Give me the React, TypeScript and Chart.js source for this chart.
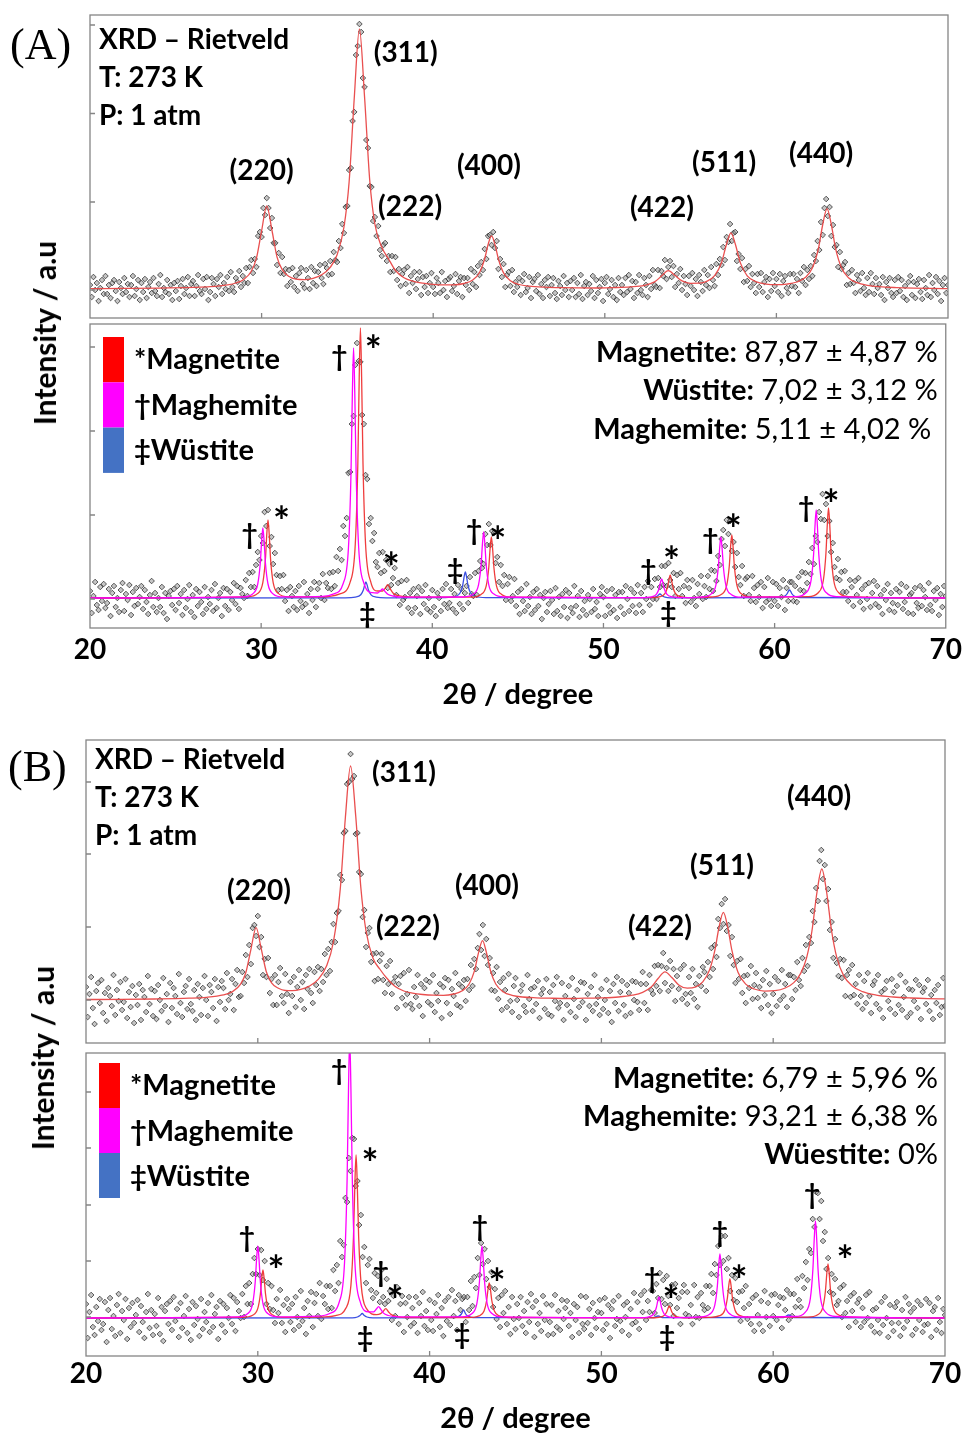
import React, { useEffect, useRef } from "react";
import { Chart, registerables } from "chart.js";

Chart.register(...registerables);

const FONT = "Lato, 'Open Sans', 'DejaVu Sans', sans-serif";

// 2θ axis
const X_MIN = 20;
const X_MAX = 70;
const X_STEP = 10;
const X_INNER_TICKS = [30, 40, 50, 60];

// scan grid of the measured patterns (2θ from 20° in 0.1° steps)
const SCAN_START = 20;
const SCAN_STEP = 0.1;

// ===================== (A) =====================
const A_OBS_TOP = [
  33,21,41,28,35,17,30,38,24,42,
  24,33,20,35,38,27,17,36,30,24,
  40,26,34,21,33,42,22,29,38,18,
  35,26,39,20,31,36,25,40,27,22,
  34,43,21,30,26,38,24,33,18,35,
  27,37,19,32,39,24,30,41,22,34,
  37,22,32,43,27,24,39,29,41,18,
  26,40,34,22,39,31,43,24,35,29,
  41,27,46,31,26,40,36,47,31,42,
  35,50,35,51,58,45,59,51,82,86,
  81,110,103,120,110,90,100,75,75,53,
  65,45,61,44,49,32,48,36,50,31,
  42,27,45,50,34,30,48,40,29,51,
  35,47,32,46,53,40,34,54,50,43,
  57,44,66,58,56,77,70,94,85,111,
  112,148,150,197,206,263,272,294,286,240,
  231,178,170,132,131,97,101,82,92,68,
  62,73,75,57,62,46,62,47,61,38,
  49,32,44,48,34,51,25,42,35,46,
  29,39,46,23,41,31,42,25,35,45,
  31,24,40,35,25,46,28,37,21,39,
  41,27,32,44,24,37,41,21,40,33,
  40,28,49,34,46,31,52,43,56,48,
  69,59,82,83,73,86,70,77,49,59,
  41,54,31,43,46,32,48,26,36,31,
  40,23,37,44,26,30,41,20,36,39,
  27,43,24,34,20,38,31,41,22,33,
  40,25,19,37,32,23,42,28,35,21,
  37,28,40,21,35,24,43,19,32,36,
  23,34,27,42,20,38,25,31,39,17,
  35,41,24,29,38,21,33,18,40,26,
  33,23,40,26,43,29,37,20,36,25,
  43,28,23,40,33,21,42,29,48,33,
  31,48,30,47,42,58,39,51,57,41,
  52,31,44,35,49,28,42,34,23,42,
  32,45,28,39,22,43,36,27,48,33,
  43,30,51,38,32,54,43,59,53,71,
  58,81,76,94,77,85,86,57,64,49,
  60,36,49,37,52,31,44,35,25,44,
  31,45,26,36,41,21,39,27,45,32,
  39,26,44,22,37,42,30,25,44,32,
  44,31,39,25,45,37,51,33,48,39,
  52,42,63,57,77,68,96,83,110,119,
  102,111,82,93,71,73,51,66,49,53,
  56,33,45,34,48,35,25,43,38,27,
  45,30,23,40,26,45,34,24,40,30,
  34,23,41,18,36,30,40,25,21,38,
  25,41,27,38,21,32,18,36,42,23,
  36,20,34,39,26,19,38,30,23,43,
  21,35,28,41,24,37,17,33,40,25,
  33,
];

const A_FIT_X = [
  20,22,24,26,27,28,28.5,29,29.4,29.7,30,30.3,30.6,30.9,31.2,31.6,32,32.5,33,33.5,
  34,34.4,34.8,35.1,35.4,35.7,36,36.3,36.6,37,37.4,37.8,38.3,38.8,39.4,40,40.6,41.2,41.8,42.3,
  42.7,43,43.2,43.4,43.6,43.8,44.1,44.5,45,45.6,46.5,47.5,48.5,49.5,50.5,51.5,52.3,52.9,53.3,53.7,
  54.1,54.5,55,55.5,56,56.4,56.8,57.1,57.35,57.6,57.9,58.3,58.8,59.4,60,60.6,61.2,61.7,62.1,62.45,
  62.7,62.95,63.2,63.45,63.8,64.2,64.7,65.3,66,67,68,69,70,
];
const A_FIT_Y = [
  29.4,29.6,29.9,30.6,31.3,33.1,35,39.1,46.8,59.9,87.1,112.2,88,60.9,48.4,41.5,38.9,38.4,39.7,43.2,
  50.7,63.2,91,136,220,289,221,138,94,71,59,47.5,40.3,36.9,34.8,33.6,33.1,33.2,34.5,37.9,
  45.5,59.2,73.5,82.1,73.4,59,45.1,37.2,33.5,31.8,30.8,30.3,30.1,30,30.4,31.1,32.6,36.1,41.9,47.3,
  42.4,37.1,34.7,34.8,37.2,42.3,55.2,74.3,85.2,74.3,55.1,42.2,36.3,33.9,33.3,33.9,36,40.7,50.2,69.5,
  93.5,109.4,93.4,69.4,50,40.3,35.3,32.7,31.3,30.4,29.9,29.6,29.4,
];

const A_OBS_BOT = [
  37,15,32,46,23,18,41,27,44,20,
  25,39,12,35,42,21,30,16,38,45,
  17,34,28,43,13,36,22,40,24,31,
  42,19,38,26,14,33,47,21,35,16,
  30,21,41,15,35,9,32,37,23,39,
  18,42,25,34,13,38,20,29,43,16,
  33,11,39,22,36,26,14,41,19,31,
  24,38,17,44,20,30,35,12,40,22,
  39,18,36,28,45,24,42,19,40,34,
  30,48,32,55,41,56,41,63,76,68,
  92,85,116,102,118,82,91,64,75,53,
  38,52,39,53,27,38,17,41,32,21,
  37,18,42,27,21,46,24,34,15,39,
  28,46,21,39,45,30,54,28,45,40,
  55,39,56,42,71,57,79,68,102,92,
  110,155,156,204,212,263,285,267,266,213,
  204,153,149,104,110,87,95,66,61,75,
  55,76,57,68,40,64,43,50,60,33,
  45,23,47,28,31,48,20,35,15,39,
  20,32,41,14,37,24,43,19,30,16,
  38,21,12,35,30,17,39,24,44,20,
  25,39,19,34,15,43,24,39,19,35,
  42,25,51,34,32,55,33,57,67,60,
  64,94,83,104,83,97,95,65,71,46,
  63,42,53,28,44,51,27,32,49,22,
  36,14,39,27,17,44,22,31,14,36,
  18,39,22,33,9,30,36,16,24,37,
  28,14,40,17,31,12,34,21,38,10,
  35,20,15,42,22,32,11,37,18,27,
  13,33,29,16,39,19,26,12,34,41,
  31,12,37,22,15,39,18,33,10,36,
  21,36,14,42,29,17,39,22,35,15,
  43,23,35,16,41,29,47,23,41,29,
  49,29,50,41,62,43,62,42,65,48,
  41,55,32,53,39,55,32,42,25,48,
  40,26,48,30,22,44,34,52,29,42,
  31,52,39,58,37,57,47,72,63,89,
  98,82,108,94,107,77,86,61,75,51,
  43,62,32,49,51,33,27,52,40,26,
  43,31,46,20,41,26,50,29,22,46,
  27,44,22,40,31,48,18,40,27,46,
  46,27,42,26,51,38,56,37,55,45,
  66,54,80,64,92,86,116,109,134,108,
  124,92,107,76,85,61,50,69,48,56,
  36,57,36,27,48,41,22,47,33,50,
  26,39,19,43,29,45,21,35,47,24,
  42,21,33,14,38,28,44,18,35,25,
  16,39,23,36,44,19,26,41,15,33,
  35,14,40,25,20,42,22,38,31,18,
  45,23,17,37,28,40,13,34,21,42,
  32,
];

const A_MAGNETITE_X = [
  20,29.2,29.8,30.1,30.25,30.33,30.4,30.47,30.55,30.7,31.0,31.6,
  33.5,34.6,35.2,35.5,35.65,35.73,35.8,35.87,35.95,36.1,36.4,36.8,37.1,37.25,37.4,37.55,37.7,38.0,38.6,
  42.25,42.85,43.15,43.3,43.38,43.45,43.52,43.6,43.75,44.05,44.65,
  52.7,53.3,53.6,53.75,53.83,53.9,53.97,54.05,54.2,54.5,55.1,
  56.3,56.9,57.2,57.35,57.43,57.5,57.57,57.65,57.8,58.1,58.7,
  61.95,62.55,62.85,63.0,63.08,63.15,63.22,63.3,63.45,63.75,64.35,70,
];
const A_MAGNETITE_Y = [
  30,31.2,34.6,45.6,69,94,108,94,69,45.6,34.6,31.2,
  31.1,34.2,45.9,84,165,251,300,251,165,84,46.3,37,37,39.8,43.3,38.9,35,32.4,31.2,
  30.9,33.6,42.2,60.5,80,91,80,60.5,42.2,33.6,30.9,
  30.3,31.4,34.6,41.5,48.9,53,48.9,41.5,34.6,31.4,30.3,
  31,33.7,42.6,61.5,81.7,93,81.7,61.5,42.6,33.7,31,
  31.4,35.3,48,75,103.8,120,103.8,75,48,35.3,31.4,30,
];
const A_MAGHEMITE_X = [
  20,28.9,29.5,29.8,29.95,30.03,30.1,30.17,30.25,30.4,30.7,31.3,
  33.6,34.2,34.8,35.1,35.25,35.33,35.4,35.47,35.55,35.7,36.0,36.5,36.8,36.95,37.1,37.25,37.4,37.7,38.3,
  41.8,42.4,42.7,42.85,42.93,43.0,43.07,43.15,43.3,43.6,44.2,
  52.2,52.8,53.1,53.25,53.33,53.4,53.47,53.55,53.7,54.0,54.6,
  55.66,56.26,56.56,56.71,56.79,56.86,56.93,57.01,57.16,57.46,58.06,
  61.23,61.83,62.13,62.28,62.36,62.43,62.5,62.58,62.73,63.03,63.63,70,
];
const A_MAGHEMITE_Y = [
  30,31.1,34.1,44,65,87.4,100,87.4,65,44,34.1,31.1,
  31.7,33.8,44.8,80,155,235,280,235,155,80,45,35.3,35,36.9,39,36.3,33.8,32,30.8,
  31,33.9,43.2,63,84.1,96,84.1,63,43.2,33.9,31,
  30.3,31.1,33.8,39.5,45.6,49,45.6,39.5,33.8,31.1,30.3,
  30.9,33.6,42.2,60.5,80,91,80,60.5,42.2,33.6,30.9,
  31.3,35.2,47.6,74,102,118,102,74,47.6,35.2,31.3,30,
];
const A_WUSTITE_X = [
  20,34.9,35.5,35.82,35.97,36.05,36.12,36.19,36.27,36.42,36.72,37.3,
  40.73,41.33,41.63,41.78,41.86,41.93,42.0,42.08,42.23,42.53,43.13,
  52.7,53.0,53.15,53.3,53.45,53.6,53.9,
  60.27,60.57,60.72,60.8,60.87,60.94,61.02,61.17,61.47,70,
];
const A_WUSTITE_Y = [
  30,30.2,30.9,33.2,38,43.1,46,43.1,38,33.2,30.9,30.2,
  30.4,31.5,35.2,43,51.3,56,51.3,43,35.2,31.5,30.4,
  30.2,30.8,32,34,32,30.8,30.2,
  30.5,31.6,34,36.6,38,36.6,34,31.6,30.5,30,
];

// inward tick marks on the intensity axes
const A_TOP_YTICKS = [28, 116, 204.5, 293];
const A_BOT_YTICKS = [29, 113, 197, 281];

// ===================== (B) =====================
const B_OBS_TOP = [
  56,26,49,66,35,19,52,60,40,63,
  30,50,22,55,47,37,68,28,53,42,
  61,33,41,64,25,51,36,57,20,48,
  38,59,23,53,46,31,67,39,54,27,
  52,24,58,43,32,65,37,49,21,60,
  35,55,47,29,69,40,26,51,57,34,
  64,39,32,53,23,59,46,28,55,67,
  43,27,58,51,35,64,22,56,41,62,
  55,34,70,43,49,64,33,59,73,46,
  47,71,60,88,66,98,79,115,118,107,
  127,96,106,68,84,66,85,50,64,38,
  68,38,61,75,47,40,69,49,30,61,
  47,66,36,56,73,43,61,34,68,54,
  74,50,40,71,58,76,52,74,61,89,
  68,94,72,101,119,101,130,132,168,163,
  210,212,259,261,289,264,267,209,210,171,
  169,126,133,96,110,115,81,89,62,90,
  64,82,89,63,50,77,59,82,49,61,
  66,35,59,67,45,70,38,49,73,39,
  34,56,46,68,37,59,27,55,63,41,
  61,38,68,31,50,42,59,25,56,65,
  40,63,29,54,47,70,38,59,36,56,
  63,42,64,53,78,57,84,74,95,109,
  93,118,87,104,78,85,53,70,52,76,
  44,61,33,65,53,36,69,42,31,57,
  65,43,26,52,58,37,31,68,44,54,
  32,56,39,62,25,49,54,34,64,29,
  51,27,58,42,66,35,40,60,23,47,
  38,57,31,65,44,26,53,36,61,41,
  60,23,49,37,56,32,68,39,46,28,
  54,34,43,63,30,52,21,59,40,66,
  32,51,62,38,27,58,50,30,62,43,
  61,41,33,59,71,40,59,33,68,53,
  49,77,57,78,52,77,90,60,75,52,
  82,57,74,42,67,54,74,44,78,49,
  39,66,50,74,44,59,36,67,57,76,
  71,52,81,66,95,74,98,86,124,115,
  139,119,144,112,118,87,106,78,60,82,
  64,84,50,67,40,68,55,77,44,58,
  70,45,56,35,63,48,72,38,59,30,
  49,66,37,62,43,73,47,59,36,68,
  68,44,66,53,81,63,57,85,72,98,
  77,106,100,132,121,155,142,182,193,164,
  178,142,154,113,121,85,104,80,67,84,
  65,83,47,68,73,46,78,48,59,39,
  68,47,34,62,40,70,47,30,58,62,
  39,68,34,51,25,54,62,42,34,64,
  51,29,57,38,68,33,46,61,26,54,
  30,53,42,63,35,58,24,51,55,39,
  63,32,48,24,53,40,58,28,36,65,
  37,
];

const B_FIT_X = [
  20,22,24,26,27,28,28.5,29,29.3,29.6,29.9,30.2,30.5,30.8,31.2,31.6,32,32.5,33,33.5,
  34,34.4,34.8,35.1,35.4,35.7,36.0,36.3,36.7,37.1,37.5,38,38.5,39,39.6,40.2,40.8,41.4,41.9,42.3,
  42.6,42.85,43.08,43.3,43.55,43.85,44.3,44.8,45.4,46.2,47,48,49,50,51,51.8,52.4,52.9,53.3,53.7,
  54.1,54.5,55,55.5,55.9,56.3,56.6,56.85,57.1,57.35,57.6,57.95,58.4,58.9,59.5,60.1,60.7,61.2,61.6,61.95,
  62.25,62.55,62.83,63.1,63.4,63.7,64.1,64.6,65.2,66,67,68,69,70,
];
const B_FIT_Y = [
  43.5,43.6,44,44.8,45.7,48.1,51.1,58.8,70.2,93.7,115.4,94.1,71,60.1,54.7,52.5,52.3,53.7,56.9,63.3,
  77,101,154,226,277,227,155,112,85,74,65,56.5,52,49.9,48.5,47.8,47.7,49,52.2,59,
  71.6,90.4,102.4,91,72,59,51,47.7,46,45.2,44.8,44.5,44.8,45.1,46,47.8,50.7,56,64.5,71.1,
  65.5,58.1,54.8,56.2,61.1,73.2,92.3,116,130.6,116,92.3,70.8,58.9,54,51.9,52.3,55,60.4,69.6,85.7,
  111.5,151,174,152,112,85.7,67.4,57,51.3,47.9,46,45,44.4,44.1,
];

const B_OBS_BOT = [
  52,18,44,61,29,21,49,35,57,26,
  32,54,14,46,58,27,40,20,51,62,
  23,45,36,57,17,48,29,53,33,41,
  56,24,50,34,18,44,62,28,46,21,
  42,30,58,22,49,15,45,52,32,55,
  26,59,35,47,19,53,28,40,60,23,
  47,16,54,31,50,37,20,57,27,44,
  34,53,24,61,29,42,49,17,55,31,
  52,24,48,38,61,32,58,25,54,45,
  38,62,39,70,52,73,52,82,98,82,
  107,81,106,76,95,52,73,47,70,46,
  33,57,43,66,33,51,24,57,47,34,
  52,26,59,39,30,65,35,48,22,55,
  40,64,29,53,62,40,73,37,60,52,
  70,47,70,48,86,65,91,73,115,99,
  111,158,154,198,185,218,217,170,175,131,
  141,99,109,73,91,97,66,58,83,63,
  80,54,86,59,52,77,55,65,36,60,
  40,69,32,52,60,24,53,39,59,30,
  48,33,59,23,53,40,64,30,45,26,
  56,36,25,53,42,61,29,48,20,55,
  35,59,31,66,40,55,26,61,46,57,
  59,34,59,46,75,50,79,68,98,81,
  113,92,107,77,95,69,84,49,67,37,
  58,29,61,43,65,32,49,22,59,37,
  27,52,38,59,30,45,23,54,34,62,
  49,19,55,32,43,25,60,36,52,21,
  34,51,22,61,29,45,26,56,37,48,
  55,30,43,19,52,36,49,23,60,32,
  27,59,33,47,21,53,38,28,44,56,
  43,26,58,32,51,18,47,55,30,37,
  60,35,25,51,39,54,21,47,32,63,
  34,54,27,61,44,65,36,55,44,66,
  65,43,72,58,83,57,76,52,80,60,
  51,71,40,72,48,58,32,64,71,42,
  64,40,51,32,71,39,59,38,63,51,
  46,70,48,70,82,63,92,81,110,91,
  120,95,120,87,98,65,81,56,78,54,
  64,35,65,48,70,37,52,32,58,25,
  61,41,32,55,25,65,39,53,30,61,
  40,62,36,51,59,28,58,46,66,36,
  62,40,62,49,77,56,49,80,68,94,
  76,107,103,137,129,164,163,137,155,115,
  124,87,98,64,82,62,77,51,55,68,
  39,71,43,55,29,60,45,63,34,53,
  57,29,48,34,61,38,64,30,46,24,
  48,36,23,54,31,59,38,19,51,33,
  25,49,54,33,20,46,28,59,35,52,
  44,21,48,27,55,36,51,24,31,57,
  32,53,19,45,49,26,58,34,23,47,
  41,
];

const B_MAGNETITE_X = [
  20,29.1,29.7,30.0,30.15,30.23,30.3,30.37,30.45,30.6,30.9,31.5,
  33.92,34.52,35.12,35.42,35.57,35.65,35.72,35.79,35.87,36.02,36.32,36.92,37.15,37.3,37.45,37.6,37.75,38.05,38.7,
  42.27,42.87,43.17,43.32,43.4,43.47,43.54,43.62,43.77,44.07,44.67,
  52.75,53.35,53.65,53.8,53.88,53.95,54.02,54.1,54.25,54.55,55.15,
  56.28,56.88,57.18,57.33,57.41,57.48,57.55,57.63,57.78,58.08,58.68,
  61.99,62.59,62.89,63.04,63.12,63.19,63.26,63.34,63.49,63.79,64.39,70,
];
const B_MAGNETITE_Y = [
  38,38.7,40.8,47.6,62,77.4,86,77.4,62,47.6,40.8,38.7,
  39.1,40.4,47.6,70.6,119.5,171.7,201,171.7,119.5,70.6,47.6,41.4,42.4,44.7,47.4,44.3,41.6,39.7,38.5,
  38.5,40.1,45,55.5,66.7,73,66.7,55.5,45,40.1,38.5,
  38.2,38.7,40.4,44,47.8,50,47.8,44,40.4,38.7,38.2,
  38.6,40.3,45.8,57.5,70,77,70,57.5,45.8,40.3,38.6,
  38.8,41.2,48.8,65,82.3,92,82.3,65,48.8,41.2,38.8,38,
];
const B_MAGHEMITE_X = [
  20,28.8,29.4,29.7,29.85,29.93,30.0,30.07,30.15,30.3,30.6,31.2,
  33.55,34.15,34.75,35.05,35.2,35.28,35.35,35.42,35.5,35.65,35.95,36.45,36.75,36.9,37.03,37.15,37.3,37.6,38.2,
  41.85,42.45,42.75,42.9,42.98,43.05,43.12,43.2,43.35,43.65,44.25,
  52.15,52.75,53.05,53.2,53.28,53.35,53.42,53.5,53.65,53.95,54.55,
  55.7,56.3,56.6,56.75,56.83,56.9,56.97,57.05,57.2,57.5,58.1,
  61.26,61.86,62.16,62.31,62.39,62.46,62.53,62.61,62.76,63.06,63.66,70,
];
const B_MAGHEMITE_Y = [
  38,39.1,42.2,52.4,74,97,110,97,74,52.4,42.2,39.1,
  39.9,42.2,54.5,94,178,267.6,318,267.6,178,94,54.8,44.1,44.2,47,49.4,46.8,43.1,40.5,39.2,
  39.1,42.2,52.4,74,97,110,97,74,52.4,42.2,39.1,
  38.3,39.2,42.2,48.5,55.2,59,55.2,48.5,42.2,39.2,38.3,
  39,41.8,50.8,70,90.5,102,90.5,70,50.8,41.8,39,
  39.5,43.7,57.4,86.5,117.5,135,117.5,86.5,57.4,43.7,39.5,38,
];
const B_WUSTITE_X = [
  20,35.5,35.8,35.95,36.08,36.2,36.35,36.7,
  41.4,41.7,41.85,41.98,42.1,42.25,42.55,
  53.0,53.3,53.6,
  60.6,60.9,61.2,70,
];
const B_WUSTITE_Y = [
  38,38.2,39,40.5,42.5,40.5,39,38.2,
  38.4,39.6,42,46,42,39.6,38.4,
  38.3,40,38.3,
  38.5,41,38.5,38,
];

const B_TOP_YTICKS = [43, 116, 189, 261];
const B_BOT_YTICKS = [39, 95, 151, 208, 264];

// ===================== annotations =====================
type Txt = { t: string; x: number; y: number; align?: "left" | "center" | "right" };
type Pct = { label: string; value: string; x: number; y: number };

const A_TOP_TEXTS: Txt[] = [
  { t: "XRD – Rietveld", x: 20.52, y: 278, align: "left" },
  { t: "T: 273 K", x: 20.52, y: 240, align: "left" },
  { t: "P: 1 atm", x: 20.52, y: 202, align: "left" },
  { t: "(220)", x: 30.0, y: 147 },
  { t: "(311)", x: 38.4, y: 265 },
  { t: "(222)", x: 38.65, y: 111 },
  { t: "(400)", x: 43.25, y: 152 },
  { t: "(422)", x: 53.33, y: 110 },
  { t: "(511)", x: 56.95, y: 155 },
  { t: "(440)", x: 62.6, y: 164 },
];
const A_BOT_MARKS: Txt[] = [
  { t: "†", x: 29.32, y: 93 },
  { t: "*", x: 31.19, y: 117 },
  { t: "†", x: 34.57, y: 271 },
  { t: "*", x: 36.55, y: 288 },
  { t: "*", x: 37.6, y: 71 },
  { t: "‡", x: 36.2, y: 14 },
  { t: "‡", x: 41.33, y: 58 },
  { t: "†", x: 42.44, y: 97 },
  { t: "*", x: 43.83, y: 97 },
  { t: "†", x: 52.63, y: 57 },
  { t: "*", x: 53.97, y: 77 },
  { t: "‡", x: 53.8, y: 15 },
  { t: "†", x: 56.25, y: 88 },
  { t: "*", x: 57.59, y: 109 },
  { t: "†", x: 61.84, y: 120 },
  { t: "*", x: 63.3, y: 134 },
];
const A_PCTS: Pct[] = [
  { label: "Magnetite:", value: " 87,87 ± 4,87 %", x: 69.53, y: 275 },
  { label: "Wüstite:", value: " 7,02 ± 3,12 %", x: 69.53, y: 237 },
  { label: "Maghemite:", value: " 5,11 ± 4,02 %", x: 69.15, y: 198 },
];

const B_TOP_TEXTS: Txt[] = [
  { t: "XRD – Rietveld", x: 20.52, y: 283, align: "left" },
  { t: "T: 273 K", x: 20.52, y: 245, align: "left" },
  { t: "P: 1 atm", x: 20.52, y: 207, align: "left" },
  { t: "(220)", x: 30.07, y: 152 },
  { t: "(311)", x: 38.51, y: 270 },
  { t: "(222)", x: 38.74, y: 116 },
  { t: "(400)", x: 43.34, y: 157 },
  { t: "(422)", x: 53.41, y: 116 },
  { t: "(511)", x: 57.02, y: 177 },
  { t: "(440)", x: 62.67, y: 246 },
];
const B_BOT_MARKS: Txt[] = [
  { t: "†", x: 29.37, y: 118 },
  { t: "*", x: 31.06, y: 96 },
  { t: "†", x: 34.73, y: 285 },
  { t: "*", x: 36.53, y: 203 },
  { t: "†", x: 37.17, y: 83 },
  { t: "*", x: 37.99, y: 66 },
  { t: "‡", x: 36.24, y: 18 },
  { t: "‡", x: 41.89, y: 21 },
  { t: "†", x: 42.93, y: 129 },
  { t: "*", x: 43.92, y: 83 },
  { t: "†", x: 52.95, y: 77 },
  { t: "*", x: 54.05, y: 66 },
  { t: "‡", x: 53.82, y: 19 },
  { t: "†", x: 56.9, y: 123 },
  { t: "*", x: 58.01, y: 86 },
  { t: "†", x: 62.26, y: 161 },
  { t: "*", x: 64.18, y: 106 },
];
const B_PCTS: Pct[] = [
  { label: "Magnetite:", value: " 6,79 ± 5,96 %", x: 69.59, y: 277 },
  { label: "Maghemite:", value: " 93,21 ± 6,38 %", x: 69.59, y: 239 },
  { label: "Wüestite:", value: " 0%", x: 69.59, y: 201 },
];

const PHASE_NAMES = ["*Magnetite", "†Maghemite", "‡Wüstite"];
const PHASE_COLORS = ["#ff0000", "#ff00ff", "#4472c4"];
const LINE_COLORS = { magnetite: "rgba(238,45,45,0.92)", maghemite: "#ff00ff", wustite: "rgb(60,80,225)", fit: "rgba(232,70,70,0.95)" };

// ===================== drawing helpers =====================
type Legend = { left: number; top: number; rowH: number; textLeft: number; textTop: number; textGap: number };
type Decor = { yTicks: number[]; texts: Txt[]; pcts?: Pct[]; legend?: Legend };

const LABEL_SIZE = 28;
const MARK_SIZE = 28;
const STAR_SIZE = 40;
const PCT_SIZE = 29;
const LEGEND_SIZE = 29;

function makeDecor(d: Decor) {
  return {
    id: "decor",
    afterDraw(chart: any) {
      const { ctx, chartArea: a, scales } = chart;
      const xs = scales.x;
      const ys = scales.y;
      ctx.save();
      ctx.strokeStyle = "#858585";
      ctx.lineWidth = 1.3;
      ctx.strokeRect(a.left, a.top, a.right - a.left, a.bottom - a.top);
      ctx.beginPath();
      for (const v of d.yTicks) {
        const p = ys.getPixelForValue(v);
        ctx.moveTo(a.left, p);
        ctx.lineTo(a.left + 5, p);
      }
      for (const v of X_INNER_TICKS) {
        const p = xs.getPixelForValue(v);
        ctx.moveTo(p, a.bottom);
        ctx.lineTo(p, a.bottom - 5);
      }
      ctx.stroke();

      ctx.fillStyle = "#000";
      ctx.textBaseline = "middle";
      for (const it of d.texts) {
        const isStar = it.t === "*";
        const isMark = it.t.length === 1;
        const size = isStar ? STAR_SIZE : isMark ? MARK_SIZE : LABEL_SIZE;
        ctx.font = `bold ${size}px ${FONT}`;
        ctx.textAlign = it.align || "center";
        const px = xs.getPixelForValue(it.x);
        let py = ys.getPixelForValue(it.y);
        if (isStar) py += size * 0.3;
        ctx.fillText(it.t, px, py);
      }
      if (d.pcts) {
        for (const p of d.pcts) {
          const px = xs.getPixelForValue(p.x);
          const py = ys.getPixelForValue(p.y);
          ctx.textAlign = "right";
          ctx.font = `${PCT_SIZE}px ${FONT}`;
          const w = ctx.measureText(p.value).width;
          ctx.fillText(p.value, px, py);
          ctx.font = `bold ${PCT_SIZE}px ${FONT}`;
          ctx.fillText(p.label, px - w, py);
        }
      }
      if (d.legend) {
        const L = d.legend;
        PHASE_COLORS.forEach((c, i) => {
          ctx.fillStyle = c;
          ctx.fillRect(a.left + L.left, a.top + L.top + i * L.rowH, 21, L.rowH);
        });
        ctx.fillStyle = "#000";
        ctx.textAlign = "left";
        ctx.font = `bold ${LEGEND_SIZE}px ${FONT}`;
        PHASE_NAMES.forEach((n, i) => {
          ctx.fillText(n, a.left + L.textLeft, a.top + L.textTop + i * L.textGap);
        });
      }
      ctx.restore();
    },
  };
}

type Line = { xs: number[]; ys: number[]; color: string };
type Panel = {
  height: number;
  padding: { left: number; right: number; top: number; bottom: number };
  ymax: number;
  obs: number[];
  lines: Line[];
  axis?: { height: number; titlePad: number; tickPad: number };
  decor: Decor;
};

function pairs(xs: number[], ys: number[]) {
  return xs.map((x, i) => ({ x, y: ys[i] }));
}

function createChart(canvas: HTMLCanvasElement, p: Panel) {
  const scan = p.obs.map((y, i) => ({ x: SCAN_START + i * SCAN_STEP, y }));
  const datasets: any[] = p.lines.map((l) => ({
    data: pairs(l.xs, l.ys),
    showLine: true,
    borderColor: l.color,
    borderWidth: 1.3,
    pointRadius: 0,
    pointHoverRadius: 0,
    cubicInterpolationMode: "monotone",
    fill: false,
  }));
  datasets.push({
    data: scan,
    showLine: false,
    pointStyle: "rectRot",
    pointRadius: 2.8,
    pointHoverRadius: 2.8,
    backgroundColor: "rgba(140,140,140,0.5)",
    borderColor: "rgba(35,35,35,0.72)",
    borderWidth: 1,
  });
  const tickFont = { family: FONT, size: 28, weight: "bold" as const };
  return new Chart(canvas, {
    type: "scatter",
    data: { datasets },
    options: {
      responsive: false,
      animation: false,
      devicePixelRatio: 1,
      events: [],
      layout: { padding: p.padding },
      plugins: { legend: { display: false }, tooltip: { enabled: false } },
      scales: {
        x: {
          type: "linear",
          min: X_MIN,
          max: X_MAX,
          display: !!p.axis,
          ticks: { stepSize: X_STEP, font: tickFont, color: "#000", padding: p.axis ? p.axis.tickPad : 0, maxRotation: 0, autoSkip: false },
          grid: { display: false, drawTicks: false },
          border: { display: false },
          title: {
            display: true,
            text: "2θ / degree",
            color: "#000",
            font: { family: FONT, size: 29, weight: "bold", lineHeight: 1.2 },
            padding: { top: 0, bottom: p.axis ? p.axis.titlePad : 0 },
          },
          afterFit: (s: any) => {
            if (p.axis) s.height = p.axis.height;
          },
        },
        y: { type: "linear", min: 0, max: p.ymax, display: false },
      },
    } as any,
    plugins: [makeDecor(p.decor)],
  });
}

const PANELS: { top: number; panel: Panel }[] = [
  {
    top: 0,
    panel: {
      height: 330,
      padding: { left: 90, right: 19, top: 15, bottom: 12 },
      ymax: 303,
      obs: A_OBS_TOP,
      lines: [{ xs: A_FIT_X, ys: A_FIT_Y, color: LINE_COLORS.fit }],
      decor: { yTicks: A_TOP_YTICKS, texts: A_TOP_TEXTS },
    },
  },
  {
    top: 310,
    panel: {
      height: 410,
      padding: { left: 90, right: 19, top: 14, bottom: 0 },
      ymax: 304,
      obs: A_OBS_BOT,
      lines: [
        { xs: A_MAGHEMITE_X, ys: A_MAGHEMITE_Y, color: LINE_COLORS.maghemite },
        { xs: A_MAGNETITE_X, ys: A_MAGNETITE_Y, color: LINE_COLORS.magnetite },
        { xs: A_WUSTITE_X, ys: A_WUSTITE_Y, color: LINE_COLORS.wustite },
      ],
      axis: { height: 92, titlePad: 8, tickPad: 5 },
      decor: {
        yTicks: A_BOT_YTICKS,
        texts: A_BOT_MARKS,
        pcts: A_PCTS,
        legend: { left: 13, top: 13, rowH: 45.3, textLeft: 44, textTop: 36, textGap: 45.5 },
      },
    },
  },
  {
    top: 728,
    panel: {
      height: 327,
      padding: { left: 86, right: 22, top: 12, bottom: 12 },
      ymax: 303,
      obs: B_OBS_TOP,
      lines: [{ xs: B_FIT_X, ys: B_FIT_Y, color: LINE_COLORS.fit }],
      decor: { yTicks: B_TOP_YTICKS, texts: B_TOP_TEXTS },
    },
  },
  {
    top: 1041,
    panel: {
      height: 395,
      padding: { left: 86, right: 22, top: 12, bottom: 0 },
      ymax: 303,
      obs: B_OBS_BOT,
      lines: [
        { xs: B_MAGHEMITE_X, ys: B_MAGHEMITE_Y, color: LINE_COLORS.maghemite },
        { xs: B_MAGNETITE_X, ys: B_MAGNETITE_Y, color: LINE_COLORS.magnetite },
        { xs: B_WUSTITE_X, ys: B_WUSTITE_Y, color: LINE_COLORS.wustite },
      ],
      axis: { height: 80, titlePad: 0, tickPad: 1 },
      decor: {
        yTicks: B_BOT_YTICKS,
        texts: B_BOT_MARKS,
        pcts: B_PCTS,
        legend: { left: 13, top: 10, rowH: 45, textLeft: 44, textTop: 33, textGap: 45.5 },
      },
    },
  },
];

const serif = "'Liberation Serif', 'Times New Roman', serif";

export default function App() {
  const refs = [useRef<HTMLCanvasElement>(null), useRef<HTMLCanvasElement>(null), useRef<HTMLCanvasElement>(null), useRef<HTMLCanvasElement>(null)];

  useEffect(() => {
    const charts = PANELS.map((p, i) => createChart(refs[i].current as HTMLCanvasElement, p.panel));
    return () => charts.forEach((c) => c.destroy());
  }, []);

  const yTitle = (cx: number, cy: number) => (
    <div
      style={{
        position: "absolute",
        left: cx,
        top: cy,
        transform: "translate(-50%, -50%) rotate(-90deg)",
        whiteSpace: "nowrap",
        font: `bold 30px ${FONT}`,
        color: "#000",
        lineHeight: 1,
      }}
    >
      Intensity / a.u
    </div>
  );

  return (
    <div style={{ position: "absolute", left: 0, top: 0, width: 967, height: 1436, background: "#fff", overflow: "hidden" }}>
      {PANELS.map((p, i) => (
        <canvas
          key={i}
          ref={refs[i]}
          width={967}
          height={p.panel.height}
          style={{ position: "absolute", left: 0, top: p.top, width: 967, height: p.panel.height }}
        />
      ))}
      <div style={{ position: "absolute", left: 10, top: 23, font: `44px ${serif}`, lineHeight: 1, color: "#000" }}>(A)</div>
      <div style={{ position: "absolute", left: 8, top: 745, font: `44px ${serif}`, lineHeight: 1, color: "#000" }}>(B)</div>
      {yTitle(44, 333)}
      {yTitle(42, 1058)}
    </div>
  );
}
